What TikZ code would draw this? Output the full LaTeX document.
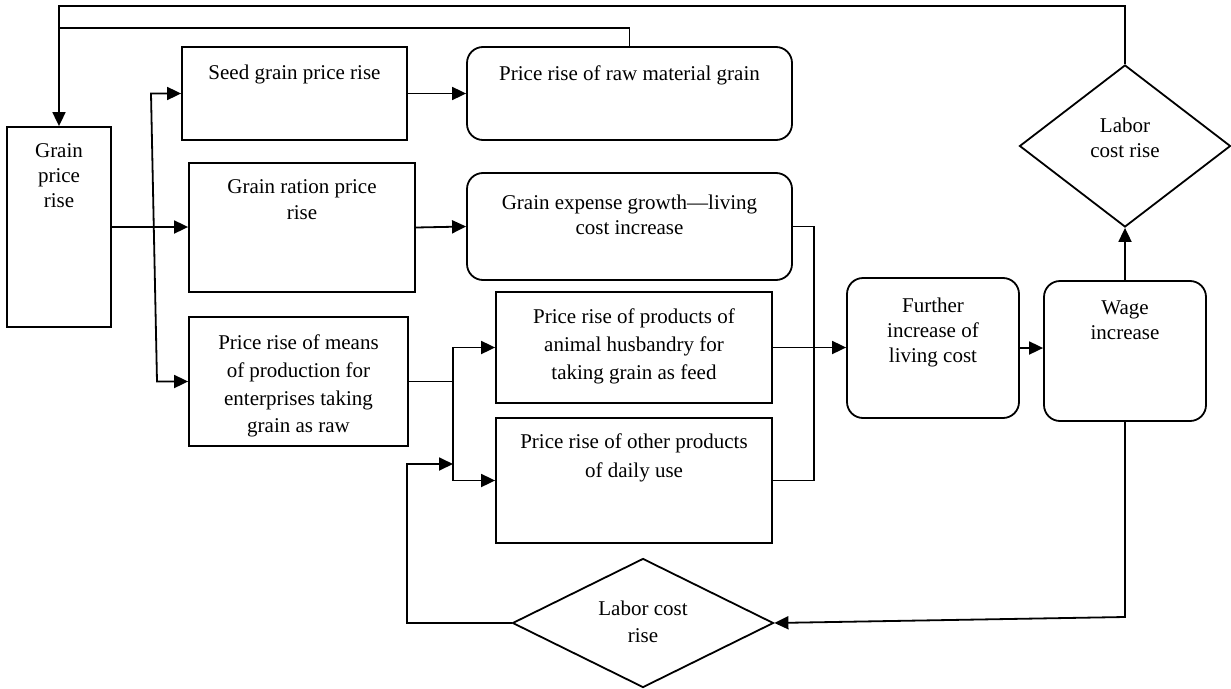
\documentclass[tikz,border=0pt]{standalone}
\usepackage{fontspec}
\setmainfont{Liberation Serif}
\usetikzlibrary{arrows.meta,shapes.geometric}
\newcommand\boxtxt[5]{\parbox[c][#2][t]{#1}{\centering\fontsize{21}{#4}\selectfont\vspace*{#3}#5\par}}
\tikzset{
  sqbox/.style={draw, line width=1.8pt, inner sep=0pt},
  rdbox/.style={draw, line width=1.8pt, inner sep=0pt, rounded corners=16pt},
  dmd/.style={draw, line width=1.8pt, inner sep=0pt, shape=diamond},
  conn/.style={line width=1.8pt},
  arr/.style={line width=1.8pt, -{Triangle[length=14pt,width=13pt]}},
  dbl/.style={line width=1.8pt, {Triangle[length=14pt,width=13pt]}-{Triangle[length=14pt,width=13pt]}}
}
\begin{document}
\begin{tikzpicture}[x=1pt,y=-1pt]
\useasboundingbox (0,0) rectangle (1231,688);
% boxes
\node[sqbox] (grain) at (59,227) {\boxtxt{104pt}{200pt}{17pt}{25pt}{Grain\\price\\rise}};
\node[sqbox] (seed) at (294.5,93.5) {\boxtxt{225pt}{93pt}{18pt}{26pt}{Seed grain price rise}};
\node[rdbox] (raw) at (629.5,93.5) {\boxtxt{325pt}{93pt}{19pt}{26pt}{Price rise of raw material grain}};
\node[sqbox] (ration) at (302,227.5) {\boxtxt{226pt}{129pt}{17pt}{26pt}{Grain ration price\\rise}};
\node[rdbox] (expense) at (629.5,226.5) {\boxtxt{325pt}{107pt}{22pt}{25pt}{Grain expense growth---living\\cost increase}};
\node[sqbox] (means) at (298.5,381.5) {\boxtxt{219pt}{129pt}{18pt}{27.7pt}{Price rise of means\\of production for\\enterprises taking\\grain as raw}};
\node[sqbox] (animal) at (634,347.5) {\boxtxt{276pt}{111pt}{17pt}{28pt}{Price rise of products of\\animal husbandry for\\taking grain as feed}};
\node[sqbox] (other) at (634,480.5) {\boxtxt{276pt}{125pt}{16pt}{29pt}{Price rise of other products\\of daily use}};
\node[rdbox] (further) at (933,348) {\boxtxt{172pt}{140pt}{20pt}{25pt}{Further\\increase of\\living cost}};
\node[rdbox] (wage) at (1125,351) {\boxtxt{162pt}{140pt}{20pt}{25pt}{Wage\\increase}};
\node[dmd, aspect=1.3, minimum width=211pt, minimum height=162pt] (lab1) at (1125,146) {\boxtxt{100pt}{70pt}{7pt}{25pt}{Labor\\cost rise}};
\node[dmd, aspect=2, minimum width=261pt, minimum height=129pt] (lab2) at (643,623) {\boxtxt{110pt}{64pt}{10pt}{27pt}{Labor cost\\rise}};
% junction points
\coordinate (s1) at (151,93.5);
\coordinate (s2) at (157,381.5);
\coordinate (j) at (453,381.5);
\coordinate (lt) at (59,6);
\coordinate (lm) at (59,28);
\coordinate (rv) at (814,226.5);
\coordinate (wb) at (1129,617);
\coordinate (lb) at (407,464);
% connectors
\draw[arr] (grain.east) -- (grain.east -| ration.west);
\draw[dbl] (seed.west) -- (s1) -- (s2) -- (means.west);
\draw[arr] (seed.east) -- (raw.west);
\draw[arr] (ration.east) -- (expense.west);
\draw[conn] (means.east) -- (j);
\draw[dbl] (animal.west) -- (j |- animal.west) -- (j |- other.west) -- (other.west);
\draw[conn] (expense.east) -- (rv) |- (other.east);
\draw[arr] (animal.east) -- (animal.east -| further.west);
\draw[arr] (further.east) -- (further.east -| wage.west);
\draw[arr] (wage.north) -- (lab1.south);
\draw[arr] (lab1.north) |- (lt) -- (grain.north);
\draw[conn] (raw.north) |- (lm);
\draw[arr] (wage.south) -- (wage.south |- wb) -- (lab2.east);
\draw[arr] (lab2.west) -| (lb) -- (lb -| j);
\end{tikzpicture}
\end{document}
